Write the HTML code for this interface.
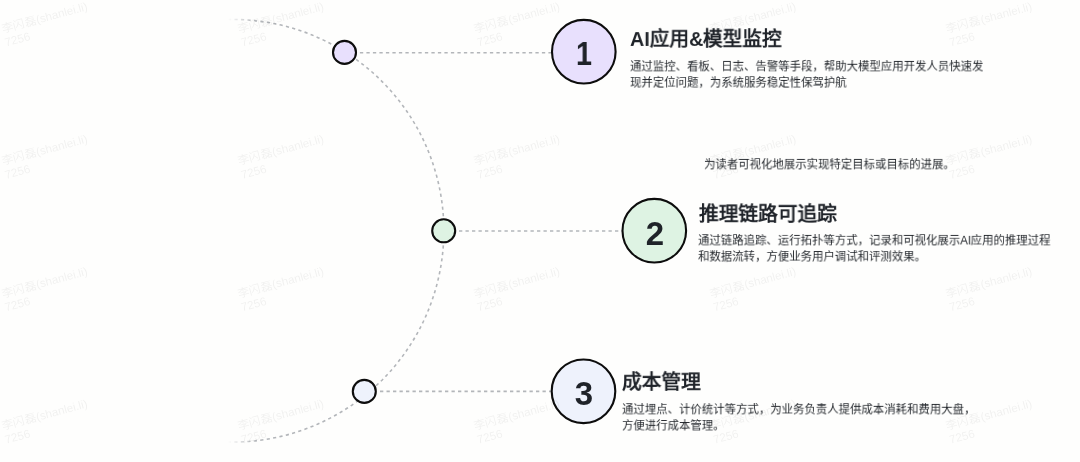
<!DOCTYPE html>
<html lang="zh-CN">
<head>
<meta charset="utf-8">
<style>
html,body{margin:0;padding:0;}
body{width:1080px;height:462px;overflow:hidden;background:#fefefd;position:relative;font-family:"Liberation Sans",sans-serif;}
svg.g{position:absolute;left:0;top:0;}
.t{position:absolute;white-space:nowrap;will-change:transform;font-weight:bold;font-size:20px;line-height:24px;color:#1f2329;transform:scale(0.985);transform-origin:0 50%;}
.b{position:absolute;white-space:nowrap;font-size:12px;line-height:17.4px;color:#1f2328;transform:scale(0.95);transform-origin:0 0;will-change:transform;}
.n{position:absolute;will-change:transform;width:64px;height:40px;text-align:center;font-weight:bold;font-size:33px;line-height:40px;color:#1f2329;}
.wm{position:absolute;left:0;top:0;width:1080px;height:462px;overflow:hidden;pointer-events:none;}
</style>
</head>
<body>
<svg class="g" width="1080" height="462" viewBox="0 0 1080 462">
  <defs>
    <linearGradient id="fade" gradientUnits="userSpaceOnUse" x1="228" y1="0" x2="256" y2="0">
      <stop offset="0" stop-color="#b3b6ba" stop-opacity="0"/>
      <stop offset="1" stop-color="#b3b6ba" stop-opacity="1"/>
    </linearGradient>
  </defs>
  <path d="M 228 19.55 A 211.25 211.25 0 1 1 228 441.95" fill="none" stroke="url(#fade)" stroke-width="1.6" stroke-dasharray="3.2 3.3"/>
  <g stroke="#b3b6ba" stroke-width="1.6" stroke-dasharray="3.3 3.2">
    <line x1="359.9" y1="52.8" x2="552" y2="52.8"/>
    <line x1="459" y1="231" x2="622" y2="231"/>
    <line x1="380" y1="391.4" x2="552" y2="391.4"/>
  </g>
  <g stroke="#0d0d0d" stroke-width="2.1">
    <circle cx="344.5" cy="52.4" r="11.5" fill="#e8e0fd"/>
    <circle cx="443.7" cy="230.8" r="11.5" fill="#def3e3"/>
    <circle cx="364.3" cy="391.4" r="11.5" fill="#eef2fc"/>
    <circle cx="583.8" cy="51.7" r="31.8" fill="#e8e0fd"/>
    <circle cx="654.3" cy="230.7" r="31.8" fill="#def3e3"/>
    <circle cx="583.5" cy="391.3" r="31.8" fill="#eef2fc"/>
  </g>
</svg>
<div class="n" style="left:551.8px;top:33.5px;transform:scaleX(0.88);">1</div>
<div class="n" style="left:622.8px;top:213.5px;">2</div>
<div class="n" style="left:551.5px;top:373.5px;">3</div>

<div class="t" style="left:630px;top:27px;">AI应用&amp;模型监控</div>
<div class="b" style="left:630px;top:59.2px;">通过监控、看板、日志、告警等手段，帮助大模型应用开发人员快速发<br>现并定位问题，为系统服务稳定性保驾护航</div>

<div class="b" style="left:703.75px;top:157.2px;">为读者可视化地展示实现特定目标或目标的进展。</div>

<div class="t" style="left:698.6px;top:202px;">推理链路可追踪</div>
<div class="b" style="left:698px;top:233.2px;">通过链路追踪、运行拓扑等方式，记录和可视化展示AI应用的推理过程<br>和数据流转，方便业务用户调试和评测效果。</div>

<div class="t" style="left:622.3px;top:370px;">成本管理</div>
<div class="b" style="left:622px;top:401.5px;">通过埋点、计价统计等方式，为业务负责人提供成本消耗和费用大盘，<br>方便进行成本管理。</div>

<svg class="wm" width="1080" height="462" viewBox="0 0 1080 462"><g fill="#000" fill-opacity="0.055" font-size="11.6" font-family="Liberation Sans, sans-serif">
<g transform="translate(2.5,33.0) rotate(-15)"><text x="0" y="0">李闪磊(shanlei.li)</text><text x="0" y="14">7256</text></g>
<g transform="translate(238.6,33.0) rotate(-15)"><text x="0" y="0">李闪磊(shanlei.li)</text><text x="0" y="14">7256</text></g>
<g transform="translate(474.7,33.0) rotate(-15)"><text x="0" y="0">李闪磊(shanlei.li)</text><text x="0" y="14">7256</text></g>
<g transform="translate(710.8,33.0) rotate(-15)"><text x="0" y="0">李闪磊(shanlei.li)</text><text x="0" y="14">7256</text></g>
<g transform="translate(946.9,33.0) rotate(-15)"><text x="0" y="0">李闪磊(shanlei.li)</text><text x="0" y="14">7256</text></g>
<g transform="translate(2.5,165.4) rotate(-15)"><text x="0" y="0">李闪磊(shanlei.li)</text><text x="0" y="14">7256</text></g>
<g transform="translate(238.6,165.4) rotate(-15)"><text x="0" y="0">李闪磊(shanlei.li)</text><text x="0" y="14">7256</text></g>
<g transform="translate(474.7,165.4) rotate(-15)"><text x="0" y="0">李闪磊(shanlei.li)</text><text x="0" y="14">7256</text></g>
<g transform="translate(710.8,165.4) rotate(-15)"><text x="0" y="0">李闪磊(shanlei.li)</text><text x="0" y="14">7256</text></g>
<g transform="translate(946.9,165.4) rotate(-15)"><text x="0" y="0">李闪磊(shanlei.li)</text><text x="0" y="14">7256</text></g>
<g transform="translate(2.5,297.8) rotate(-15)"><text x="0" y="0">李闪磊(shanlei.li)</text><text x="0" y="14">7256</text></g>
<g transform="translate(238.6,297.8) rotate(-15)"><text x="0" y="0">李闪磊(shanlei.li)</text><text x="0" y="14">7256</text></g>
<g transform="translate(474.7,297.8) rotate(-15)"><text x="0" y="0">李闪磊(shanlei.li)</text><text x="0" y="14">7256</text></g>
<g transform="translate(710.8,297.8) rotate(-15)"><text x="0" y="0">李闪磊(shanlei.li)</text><text x="0" y="14">7256</text></g>
<g transform="translate(946.9,297.8) rotate(-15)"><text x="0" y="0">李闪磊(shanlei.li)</text><text x="0" y="14">7256</text></g>
<g transform="translate(2.5,430.2) rotate(-15)"><text x="0" y="0">李闪磊(shanlei.li)</text><text x="0" y="14">7256</text></g>
<g transform="translate(238.6,430.2) rotate(-15)"><text x="0" y="0">李闪磊(shanlei.li)</text><text x="0" y="14">7256</text></g>
<g transform="translate(474.7,430.2) rotate(-15)"><text x="0" y="0">李闪磊(shanlei.li)</text><text x="0" y="14">7256</text></g>
<g transform="translate(710.8,430.2) rotate(-15)"><text x="0" y="0">李闪磊(shanlei.li)</text><text x="0" y="14">7256</text></g>
<g transform="translate(946.9,430.2) rotate(-15)"><text x="0" y="0">李闪磊(shanlei.li)</text><text x="0" y="14">7256</text></g>
</g></svg>
</body>
</html>
